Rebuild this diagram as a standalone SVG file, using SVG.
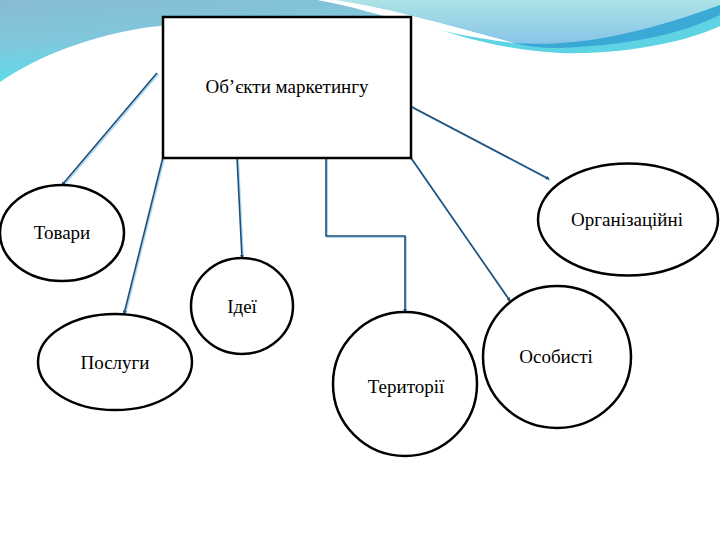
<svg xmlns="http://www.w3.org/2000/svg" xmlns:xlink="http://www.w3.org/1999/xlink" width="720" height="540" viewBox="0 0 720 540">
<style>
.node{fill:#ffffff;stroke:#000000;stroke-width:2.5}
.lbl{font-family:"Liberation Serif","DejaVu Serif",serif;font-size:19px;fill:#000000;text-anchor:middle}
.conn{fill:none;stroke:#1f4e79;stroke-width:1.6}
.glow{fill:none;stroke:#a8d8f2;stroke-width:1.6}
</style>
<defs>
<linearGradient id="gLeft" x1="0" y1="0" x2="0.35" y2="1">
<stop offset="0" stop-color="#88bbd3"/>
<stop offset="0.5" stop-color="#7fc8dd"/>
<stop offset="1" stop-color="#55e0ec"/>
</linearGradient>
<linearGradient id="gTop" x1="0" y1="0" x2="0" y2="1">
<stop offset="0" stop-color="#ace3e6"/>
<stop offset="1" stop-color="#86c3e8"/>
</linearGradient>
<marker id="arr" viewBox="0 0 6 6" refX="5" refY="3" markerWidth="4" markerHeight="4" orient="auto" markerUnits="userSpaceOnUse">
<path d="M0,0 L6,3 L0,6 Z" fill="#1f4e79"/>
</marker>
</defs>
<rect width="720" height="540" fill="#ffffff"/>
<g id="background">
<path d="M0,0 H318 C350,5 385,12 412,20 L412,24 C300,20 200,20 150,27 C90,36 40,55 0,82 Z" fill="url(#gLeft)"/>
<path d="M405,18 C450,34 500,50 560,53 C630,55 690,40 720,26 V0 H405 Z" fill="#5dd3e4"/>
<path d="M318,0 H335 C390,8 460,28 515,43 C470,38 440,30 412,24 C380,15 350,6 318,0 Z" fill="#ffffff"/>
<path d="M335,0 H720 V5 C680,25 620,42 560,45 C545,45.5 530,45 515,43 C460,28 390,8 335,0 Z" fill="url(#gTop)"/>
<path d="M515,43 C560,46 620,42 720,5 V15 C690,30 640,45 560,48 C540,48 525,46 515,43 Z" fill="#3aa9d6"/>
</g>
<g id="connectors">
<g id="glowlines" transform="translate(1.2,1.2)">
<path class="glow" d="M157,73 L62,185"/>
<path class="glow" d="M163,157 L124,314"/>
<path class="glow" d="M237,157 L242,258"/>
<path class="glow" d="M326,157 V236 H405 V312"/>
<path class="glow" d="M411,158 L510,301"/>
<path class="glow" d="M412,107 L549,179"/>
</g>
<path class="conn" d="M157,73 L62,185" marker-end="url(#arr)"/>
<path class="conn" d="M163,157 L124,314" marker-end="url(#arr)"/>
<path class="conn" d="M237,157 L242,258" marker-end="url(#arr)"/>
<path class="conn" d="M326,157 V236 H405 V312" marker-end="url(#arr)"/>
<path class="conn" d="M411,158 L510,301" marker-end="url(#arr)"/>
<path class="conn" d="M412,107 L549,179" marker-end="url(#arr)"/>
</g>
<g id="n-main">
<rect class="node" x="163" y="17" width="248" height="141"/>
<text class="lbl" x="287" y="93">Об’єкти маркетингу</text>
</g>
<g id="n-tovary">
<ellipse class="node" cx="62" cy="233" rx="62" ry="48"/>
<text class="lbl" x="62" y="239">Товари</text>
</g>
<g id="n-posluhy">
<ellipse class="node" cx="115" cy="362" rx="77" ry="48"/>
<text class="lbl" x="115" y="369">Послуги</text>
</g>
<g id="n-idei">
<ellipse class="node" cx="242" cy="306" rx="51" ry="48"/>
<text class="lbl" x="242" y="313">Ідеї</text>
</g>
<g id="n-terytorii">
<ellipse class="node" cx="405" cy="384" rx="72" ry="72"/>
<text class="lbl" x="406" y="393">Території</text>
</g>
<g id="n-osobysti">
<ellipse class="node" cx="557" cy="357" rx="74" ry="71"/>
<text class="lbl" x="556" y="363">Особисті</text>
</g>
<g id="n-orh">
<ellipse class="node" cx="628" cy="219.5" rx="90" ry="56"/>
<text class="lbl" x="627" y="226">Організаційні</text>
</g>
</svg>
